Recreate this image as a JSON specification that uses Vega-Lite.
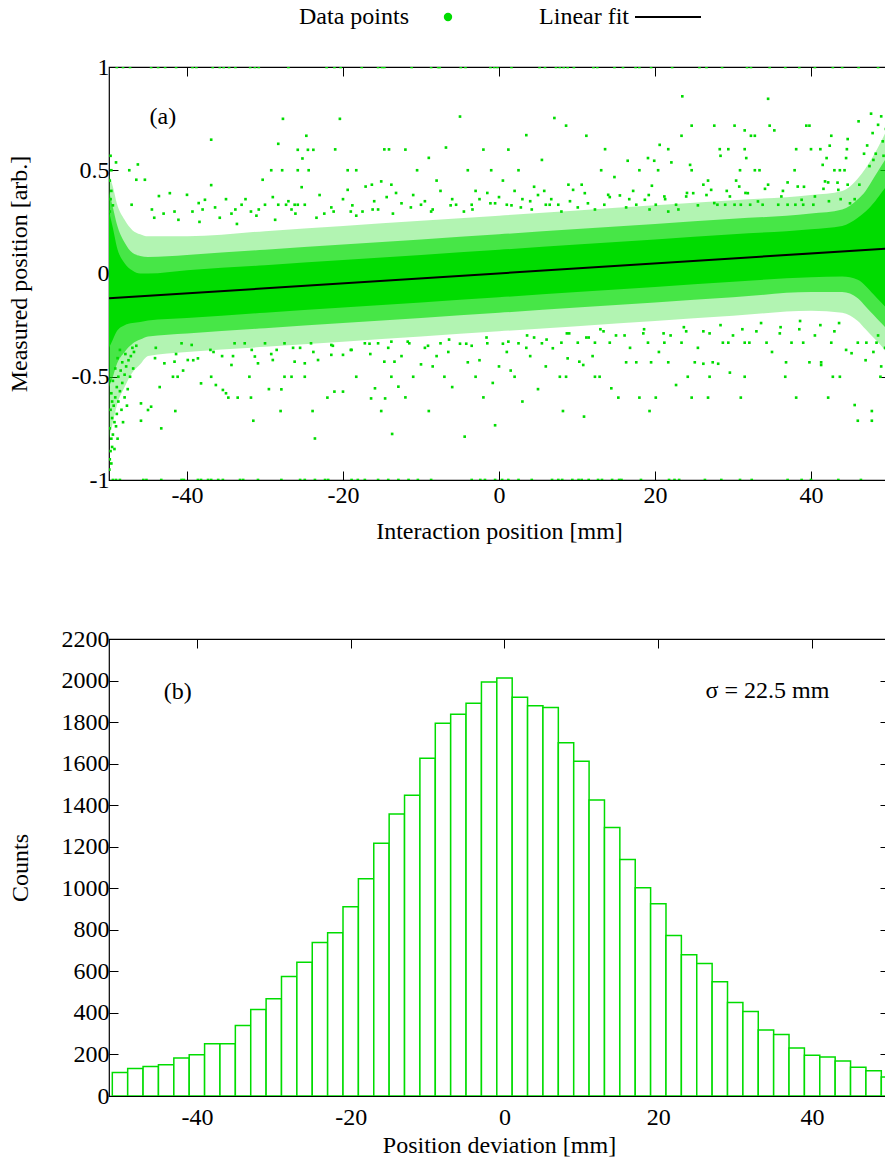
{
  "$schema": "https://vega.github.io/schema/vega-lite/v6.json",
  "padding": {"left": 6, "top": 5, "right": 5, "bottom": 5},
  "background": "white",
  "config": {
    "font": "Liberation Serif",
    "view": {"stroke": "black", "strokeWidth": 1.2},
    "axis": {
      "domain": false, "grid": false, "ticks": true, "tickSize": -9, "tickColor": "black", "tickWidth": 1,
      "labelFont": "Liberation Serif", "labelFontSize": 24, "labelColor": "black",
      "titleFont": "Liberation Serif", "titleFontSize": 24, "titleFontWeight": "normal", "titleColor": "black",
      "labelPadding": 9, "titlePadding": 25
    },
    "text": {"font": "Liberation Serif", "fontSize": 24, "color": "black"}
  },
  "spacing": 82,
  "datasets": {
    "band": [
      {"x": -50, "core_lo": -0.36, "core_hi": 0.30, "mid_lo": -0.55, "mid_hi": 0.40, "out_lo": -0.80, "out_hi": 0.48},
      {"x": -49.5, "core_lo": -0.32, "core_hi": 0.22, "mid_lo": -0.50, "mid_hi": 0.32, "out_lo": -0.72, "out_hi": 0.42},
      {"x": -49, "core_lo": -0.28, "core_hi": 0.13, "mid_lo": -0.44, "mid_hi": 0.24, "out_lo": -0.64, "out_hi": 0.34},
      {"x": -48, "core_lo": -0.25, "core_hi": 0.05, "mid_lo": -0.38, "mid_hi": 0.15, "out_lo": -0.55, "out_hi": 0.26},
      {"x": -47, "core_lo": -0.24, "core_hi": 0.015, "mid_lo": -0.34, "mid_hi": 0.10, "out_lo": -0.48, "out_hi": 0.21},
      {"x": -46, "core_lo": -0.235, "core_hi": 0.0, "mid_lo": -0.32, "mid_hi": 0.085, "out_lo": -0.44, "out_hi": 0.19},
      {"x": -45, "core_lo": -0.228, "core_hi": 0.0, "mid_lo": -0.305, "mid_hi": 0.08, "out_lo": -0.40, "out_hi": 0.18},
      {"x": -40, "core_lo": -0.216, "core_hi": 0.016, "mid_lo": -0.29, "mid_hi": 0.09, "out_lo": -0.38, "out_hi": 0.18},
      {"x": -30, "core_lo": -0.19, "core_hi": 0.04, "mid_lo": -0.265, "mid_hi": 0.115, "out_lo": -0.355, "out_hi": 0.205},
      {"x": -20, "core_lo": -0.165, "core_hi": 0.065, "mid_lo": -0.24, "mid_hi": 0.14, "out_lo": -0.33, "out_hi": 0.23},
      {"x": -10, "core_lo": -0.14, "core_hi": 0.09, "mid_lo": -0.215, "mid_hi": 0.165, "out_lo": -0.305, "out_hi": 0.255},
      {"x": 0, "core_lo": -0.115, "core_hi": 0.115, "mid_lo": -0.19, "mid_hi": 0.19, "out_lo": -0.28, "out_hi": 0.28},
      {"x": 10, "core_lo": -0.09, "core_hi": 0.14, "mid_lo": -0.165, "mid_hi": 0.215, "out_lo": -0.255, "out_hi": 0.305},
      {"x": 20, "core_lo": -0.065, "core_hi": 0.165, "mid_lo": -0.14, "mid_hi": 0.24, "out_lo": -0.23, "out_hi": 0.33},
      {"x": 30, "core_lo": -0.04, "core_hi": 0.19, "mid_lo": -0.115, "mid_hi": 0.265, "out_lo": -0.205, "out_hi": 0.355},
      {"x": 40, "core_lo": -0.018, "core_hi": 0.214, "mid_lo": -0.09, "mid_hi": 0.29, "out_lo": -0.18, "out_hi": 0.38},
      {"x": 44, "core_lo": -0.015, "core_hi": 0.23, "mid_lo": -0.09, "mid_hi": 0.31, "out_lo": -0.19, "out_hi": 0.40},
      {"x": 46, "core_lo": -0.03, "core_hi": 0.27, "mid_lo": -0.12, "mid_hi": 0.36, "out_lo": -0.23, "out_hi": 0.46},
      {"x": 47, "core_lo": -0.06, "core_hi": 0.30, "mid_lo": -0.16, "mid_hi": 0.40, "out_lo": -0.27, "out_hi": 0.51},
      {"x": 48, "core_lo": -0.10, "core_hi": 0.34, "mid_lo": -0.20, "mid_hi": 0.46, "out_lo": -0.31, "out_hi": 0.57},
      {"x": 49, "core_lo": -0.14, "core_hi": 0.39, "mid_lo": -0.24, "mid_hi": 0.52, "out_lo": -0.35, "out_hi": 0.64},
      {"x": 50, "core_lo": -0.18, "core_hi": 0.44, "mid_lo": -0.28, "mid_hi": 0.58, "out_lo": -0.40, "out_hi": 0.72}
    ],
    "fit": [{"x": -50, "y": -0.12}, {"x": 50, "y": 0.121}],
    "pts": [
      {"x":-27.7,"y":0.749},{"x":-20.4,"y":0.749},{"x":-36.9,"y":0.648},{"x":-24.7,"y":0.667},{"x":-28.3,"y":0.628},{"x":-25.8,"y":0.599},{"x":-24.5,"y":0.599},{"x":-23.8,"y":0.599},{"x":-21.0,"y":0.601},{"x":-25.2,"y":0.557},{"x":-14.7,"y":0.601},{"x":-14.1,"y":0.601},{"x":-49.8,"y":0.570},{"x":-49.1,"y":0.538},{"x":-46.3,"y":0.528},{"x":-49.7,"y":0.5},{"x":-47.4,"y":0.5},{"x":-29.2,"y":0.5},{"x":-27.8,"y":0.5},{"x":-25.8,"y":0.5},{"x":-24.4,"y":0.5},{"x":-19.4,"y":0.5},{"x":-18.3,"y":0.5},{"x":-46.5,"y":0.454},{"x":-45.4,"y":0.454},{"x":-30.3,"y":0.454},{"x":-36.9,"y":0.428},{"x":-25.3,"y":0.418},{"x":-19.4,"y":0.405},{"x":-17.1,"y":0.421},{"x":-16.3,"y":0.43},{"x":-15.1,"y":0.446},{"x":-13.8,"y":0.43},{"x":-43.6,"y":0.375},{"x":-42.2,"y":0.389},{"x":-40.0,"y":0.381},{"x":-37.7,"y":0.357},{"x":-38.5,"y":0.341},{"x":-47.1,"y":0.333},{"x":-33.0,"y":0.333},{"x":-30.0,"y":0.333},{"x":-28.3,"y":0.333},{"x":-27.3,"y":0.333},{"x":-26.2,"y":0.333},{"x":-25.8,"y":0.333},{"x":-24.9,"y":0.333},{"x":-41.6,"y":0.30},{"x":-38.0,"y":0.31},{"x":-35.0,"y":0.36},{"x":-34.3,"y":0.29},{"x":-31.8,"y":0.30},{"x":-29.0,"y":0.37},{"x":-27.0,"y":0.35},{"x":-23.0,"y":0.38},{"x":-21.5,"y":0.32},{"x":-20.0,"y":0.36},{"x":-18.8,"y":0.33},{"x":-17.5,"y":0.30},{"x":-16.0,"y":0.35},{"x":-14.4,"y":0.37},{"x":-13.2,"y":0.39},{"x":-12.5,"y":0.34},{"x":-44.5,"y":0.31},{"x":-43.0,"y":0.29},{"x":-39.3,"y":0.30},{"x":-36.4,"y":0.32},{"x":-33.8,"y":0.31},{"x":-32.5,"y":0.36},{"x":-30.8,"y":0.31},{"x":-26.6,"y":0.31},{"x":-22.4,"y":0.29},{"x":-19.0,"y":0.30},{"x":-15.5,"y":0.31},
      {"x":-44.2,"y":0.27},{"x":-41.1,"y":0.26},{"x":-38.4,"y":0.25},{"x":-35.8,"y":0.27},{"x":-33.6,"y":0.24},{"x":-31.1,"y":0.28},{"x":-28.7,"y":0.26},{"x":-26.1,"y":0.29},{"x":-23.4,"y":0.27},{"x":-21.2,"y":0.30},{"x":-18.3,"y":0.28},{"x":-16.2,"y":0.31},{"x":-13.6,"y":0.29},{"x":-11.3,"y":0.32},{"x":-8.7,"y":0.30},{"x":-6.2,"y":0.33},{"x":-3.4,"y":0.31},{"x":-1.1,"y":0.34},{"x":1.6,"y":0.33},{"x":4.2,"y":0.31},{"x":6.7,"y":0.36},{"x":9.1,"y":0.35},{"x":11.4,"y":0.34},{"x":14.2,"y":0.37},{"x":16.7,"y":0.36},{"x":19.2,"y":0.38},{"x":21.3,"y":0.36},{"x":24.1,"y":0.39},{"x":26.6,"y":0.38},{"x":29.2,"y":0.40},{"x":31.6,"y":0.39},{"x":34.1,"y":0.41},{"x":36.4,"y":0.40},{"x":39.1,"y":0.42},{"x":41.6,"y":0.41},{"x":43.4,"y":0.44},
      {"x":-12.0,"y":0.60},{"x":-10.5,"y":0.50},{"x":-9.0,"y":0.56},{"x":-8.0,"y":0.45},{"x":-6.8,"y":0.61},{"x":-5.0,"y":0.76},{"x":-4.0,"y":0.50},{"x":-3.0,"y":0.40},{"x":-2.0,"y":0.60},{"x":-1.0,"y":0.50},{"x":0.5,"y":0.45},{"x":1.2,"y":0.60},{"x":2.5,"y":0.50},{"x":3.5,"y":0.67},{"x":4.5,"y":0.42},{"x":5.5,"y":0.55},{"x":-11.0,"y":0.38},{"x":-9.5,"y":0.35},{"x":-7.5,"y":0.40},{"x":-6.0,"y":0.36},{"x":-5.5,"y":0.333},{"x":-3.5,"y":0.333},{"x":-2.5,"y":0.36},{"x":-1.5,"y":0.39},{"x":0.0,"y":0.37},{"x":1.0,"y":0.333},{"x":2.0,"y":0.40},{"x":3.0,"y":0.36},{"x":4.0,"y":0.35},{"x":5.0,"y":0.38},{"x":6.0,"y":0.333},{"x":-10.0,"y":0.333},{"x":-8.5,"y":0.31},{"x":-4.5,"y":0.30},{"x":-0.5,"y":0.34},{"x":2.8,"y":0.32},{"x":5.8,"y":0.40},
      {"x":23.5,"y":0.858},{"x":34.5,"y":0.846},{"x":47.7,"y":0.774},{"x":49.0,"y":0.761},{"x":8.6,"y":0.716},{"x":7.1,"y":0.753},{"x":46.1,"y":0.737},{"x":11.2,"y":0.667},{"x":23.4,"y":0.667},{"x":24.7,"y":0.716},{"x":27.6,"y":0.716},{"x":30.2,"y":0.716},{"x":31.5,"y":0.693},{"x":32.3,"y":0.667},{"x":32.8,"y":0.667},{"x":34.7,"y":0.716},{"x":35.3,"y":0.693},{"x":39.4,"y":0.716},{"x":39.8,"y":0.716},{"x":42.6,"y":0.667},{"x":44.7,"y":0.651},{"x":13.6,"y":0.602},{"x":20.6,"y":0.623},{"x":21.7,"y":0.602},{"x":28.3,"y":0.602},{"x":29.4,"y":0.602},{"x":31.5,"y":0.602},{"x":38.1,"y":0.602},{"x":40.0,"y":0.602},{"x":41.2,"y":0.602},{"x":42.4,"y":0.619},{"x":44.6,"y":0.602},{"x":16.5,"y":0.546},{"x":19.1,"y":0.559},{"x":19.9,"y":0.546},{"x":22.1,"y":0.538},{"x":24.5,"y":0.526},{"x":28.4,"y":0.570},{"x":31.7,"y":0.559},{"x":42.0,"y":0.559},{"x":41.5,"y":0.526},{"x":44.5,"y":0.559},{"x":13.1,"y":0.5},{"x":18.0,"y":0.5},{"x":20.4,"y":0.5},{"x":24.7,"y":0.5},{"x":30.9,"y":0.5},{"x":32.8,"y":0.5},{"x":33.4,"y":0.5},{"x":37.9,"y":0.5},{"x":43.0,"y":0.5},{"x":43.7,"y":0.5},{"x":44.3,"y":0.5},{"x":14.8,"y":0.467},{"x":19.6,"y":0.425},{"x":26.8,"y":0.45},{"x":30.4,"y":0.45},{"x":37.0,"y":0.441},{"x":38.3,"y":0.421},{"x":42.2,"y":0.441},{"x":46.2,"y":0.43},{"x":10.6,"y":0.43},{"x":8.9,"y":0.43},{"x":6.5,"y":0.333},{"x":7.6,"y":0.333},{"x":9.5,"y":0.405},{"x":11.0,"y":0.389},{"x":14.0,"y":0.381},{"x":15.5,"y":0.378},{"x":17.2,"y":0.40},{"x":18.7,"y":0.357},{"x":21.2,"y":0.373},{"x":22.7,"y":0.333},{"x":24.0,"y":0.373},{"x":24.9,"y":0.389},{"x":26.2,"y":0.43},{"x":27.2,"y":0.405},{"x":27.6,"y":0.341},{"x":29.6,"y":0.373},{"x":30.8,"y":0.421},{"x":31.9,"y":0.389},{"x":33.2,"y":0.349},{"x":34.5,"y":0.43},{"x":36.2,"y":0.373},{"x":37.0,"y":0.333},{"x":38.8,"y":0.357},{"x":40.5,"y":0.373},{"x":41.8,"y":0.446},{"x":43.5,"y":0.405},{"x":44.7,"y":0.43},{"x":45.6,"y":0.36},{"x":8.0,"y":0.30},{"x":10.1,"y":0.32},{"x":12.3,"y":0.31},{"x":13.5,"y":0.333},{"x":16.3,"y":0.32},{"x":17.6,"y":0.333},{"x":19.3,"y":0.31},{"x":20.1,"y":0.333},{"x":21.7,"y":0.30},{"x":23.0,"y":0.31},{"x":25.5,"y":0.33},{"x":28.0,"y":0.333},{"x":29.0,"y":0.333},{"x":30.2,"y":0.333},{"x":31.0,"y":0.333},{"x":32.2,"y":0.333},{"x":33.8,"y":0.333},{"x":35.8,"y":0.333},{"x":38.0,"y":0.333},{"x":39.0,"y":0.333},{"x":40.3,"y":0.333},{"x":42.3,"y":0.35},{"x":43.8,"y":0.36},{"x":45.0,"y":0.34},
      {"x":47.2,"y":0.62},{"x":47.9,"y":0.68},{"x":48.3,"y":0.58},{"x":48.6,"y":0.72},{"x":49.2,"y":0.64},{"x":49.6,"y":0.70},{"x":49.8,"y":0.66},{"x":48.0,"y":0.55},{"x":49.3,"y":0.57},{"x":47.5,"y":0.52},{"x":46.8,"y":0.58},{"x":49.9,"y":0.60},
      {"x":-31.5,"y":-0.713},{"x":-43.3,"y":-0.75},{"x":-23.6,"y":-0.799},{"x":-13.7,"y":-0.777},{"x":-28.0,"y":-0.666},{"x":-23.9,"y":-0.666},{"x":-15.1,"y":-0.666},{"x":-45.9,"y":-0.713},{"x":-45.0,"y":-0.661},{"x":-44.6,"y":-0.645},{"x":-41.5,"y":-0.666},{"x":-45.9,"y":-0.629},{"x":-16.4,"y":-0.605},{"x":-14.6,"y":-0.605},{"x":-34.7,"y":-0.601},{"x":-33.5,"y":-0.601},{"x":-31.8,"y":-0.601},{"x":-27.9,"y":-0.561},{"x":-22.0,"y":-0.601},{"x":-21.1,"y":-0.572},{"x":-20.0,"y":-0.572},{"x":-15.9,"y":-0.556},{"x":-12.9,"y":-0.548},{"x":-38.2,"y":-0.532},{"x":-36.3,"y":-0.54},{"x":-35.4,"y":-0.564},{"x":-35.0,"y":-0.58},{"x":-41.8,"y":-0.5},{"x":-41.2,"y":-0.5},{"x":-36.9,"y":-0.5},{"x":-27.5,"y":-0.5},{"x":-26.6,"y":-0.5},{"x":-24.9,"y":-0.5},{"x":-18.3,"y":-0.5},{"x":-13.8,"y":-0.5},{"x":-42.9,"y":-0.435},{"x":-41.6,"y":-0.427},{"x":-39.9,"y":-0.419},{"x":-38.6,"y":-0.411},{"x":-34.3,"y":-0.443},{"x":-31.3,"y":-0.402},{"x":-30.9,"y":-0.435},{"x":-29.0,"y":-0.419},{"x":-26.2,"y":-0.427},{"x":-24.9,"y":-0.435},{"x":-23.2,"y":-0.419},{"x":-21.5,"y":-0.394},{"x":-20.0,"y":-0.394},{"x":-14.7,"y":-0.427},{"x":-13.4,"y":-0.427},{"x":-40.7,"y":-0.338},{"x":-39.4,"y":-0.346},{"x":-33.9,"y":-0.338},{"x":-32.6,"y":-0.338},{"x":-30.0,"y":-0.338},{"x":-27.5,"y":-0.338},{"x":-24.1,"y":-0.338},{"x":-21.5,"y":-0.346},{"x":-17.2,"y":-0.338},{"x":-15.5,"y":-0.338},{"x":-13.8,"y":-0.33},{"x":-44.0,"y":-0.36},{"x":-37.0,"y":-0.37},{"x":-35.5,"y":-0.40},{"x":-28.5,"y":-0.37},{"x":-25.5,"y":-0.36},{"x":-19.0,"y":-0.37},{"x":-16.5,"y":-0.39},{"x":-43.5,"y":-0.55},{"x":-40.5,"y":-0.47},{"x":-32.0,"y":-0.5},{"x":-29.5,"y":-0.56},
      {"x":-44.1,"y":-0.41},{"x":-41.4,"y":-0.39},{"x":-39.2,"y":-0.42},{"x":-36.6,"y":-0.38},{"x":-34.1,"y":-0.40},{"x":-31.7,"y":-0.37},{"x":-29.2,"y":-0.39},{"x":-26.4,"y":-0.36},{"x":-23.8,"y":-0.38},{"x":-21.3,"y":-0.35},{"x":-18.9,"y":-0.37},{"x":-16.6,"y":-0.34},{"x":-14.2,"y":-0.36},{"x":-11.7,"y":-0.33},{"x":-9.1,"y":-0.35},{"x":-6.4,"y":-0.32},{"x":-4.2,"y":-0.34},{"x":-1.6,"y":-0.31},{"x":1.2,"y":-0.33},{"x":3.6,"y":-0.30},{"x":6.1,"y":-0.32},{"x":8.7,"y":-0.29},{"x":11.2,"y":-0.31},{"x":13.4,"y":-0.28},{"x":16.1,"y":-0.30},{"x":18.6,"y":-0.27},{"x":21.1,"y":-0.29},{"x":23.7,"y":-0.26},{"x":26.2,"y":-0.28},{"x":28.4,"y":-0.25},{"x":31.2,"y":-0.27},{"x":33.6,"y":-0.24},{"x":36.1,"y":-0.26},{"x":38.6,"y":-0.23},{"x":41.2,"y":-0.25},{"x":43.6,"y":-0.24},
      {"x":-49.9,"y":-0.90},{"x":-49.8,"y":-0.86},{"x":-49.6,"y":-0.84},{"x":-49.7,"y":-0.80},{"x":-49.5,"y":-0.78},{"x":-49.9,"y":-0.75},{"x":-49.3,"y":-0.72},{"x":-49.6,"y":-0.70},{"x":-49.0,"y":-0.68},{"x":-49.8,"y":-0.66},{"x":-49.4,"y":-0.64},{"x":-48.8,"y":-0.62},{"x":-49.2,"y":-0.60},{"x":-49.7,"y":-0.58},{"x":-48.6,"y":-0.57},{"x":-49.0,"y":-0.55},{"x":-48.3,"y":-0.53},{"x":-49.5,"y":-0.52},{"x":-48.8,"y":-0.50},{"x":-48.0,"y":-0.49},{"x":-48.5,"y":-0.47},{"x":-49.2,"y":-0.46},{"x":-47.8,"y":-0.45},{"x":-48.3,"y":-0.43},{"x":-47.5,"y":-0.42},{"x":-48.9,"y":-0.41},{"x":-47.2,"y":-0.40},{"x":-47.9,"y":-0.39},{"x":-46.8,"y":-0.38},{"x":-48.6,"y":-0.37},{"x":-47.0,"y":-0.36},{"x":-46.5,"y":-0.35},{"x":-49.6,"y":-0.62},{"x":-49.1,"y":-0.74},{"x":-48.4,"y":-0.66},{"x":-48.0,"y":-0.60},{"x":-47.6,"y":-0.56},{"x":-49.9,"y":-0.52},{"x":-47.3,"y":-0.50},{"x":-46.9,"y":-0.46},{"x":-49.3,"y":-0.85},{"x":-48.9,"y":-0.80},{"x":-48.2,"y":-0.72},{"x":-47.7,"y":-0.64},{"x":-49.95,"y":-0.95},{"x":-49.7,"y":-0.92},
      {"x":-49.9,"y":0.45},{"x":-49.7,"y":0.40},{"x":-49.8,"y":0.36},{"x":-49.5,"y":0.33},{"x":-49.9,"y":0.30},
      {"x":-12.0,"y":-0.60},{"x":-11.0,"y":-0.5},{"x":-10.0,"y":-0.44},{"x":-9.0,"y":-0.666},{"x":-8.0,"y":-0.40},{"x":-7.0,"y":-0.5},{"x":-6.0,"y":-0.55},{"x":-5.0,"y":-0.34},{"x":-4.4,"y":-0.79},{"x":-4.0,"y":-0.43},{"x":-3.0,"y":-0.5},{"x":-2.0,"y":-0.60},{"x":-0.5,"y":-0.735},{"x":0.0,"y":-0.45},{"x":1.0,"y":-0.38},{"x":2.0,"y":-0.5},{"x":3.0,"y":-0.62},{"x":4.0,"y":-0.40},{"x":5.0,"y":-0.56},{"x":6.0,"y":-0.45},{"x":-11.5,"y":-0.338},{"x":-9.5,"y":-0.36},{"x":-7.5,"y":-0.338},{"x":-6.5,"y":-0.38},{"x":-3.5,"y":-0.35},{"x":-1.5,"y":-0.338},{"x":0.5,"y":-0.34},{"x":2.5,"y":-0.338},{"x":3.5,"y":-0.36},{"x":5.5,"y":-0.338},{"x":-12.5,"y":-0.40},{"x":-8.5,"y":-0.45},{"x":-2.5,"y":-0.42},{"x":1.5,"y":-0.47},{"x":4.5,"y":-0.31},{"x":-0.8,"y":-0.53},
      {"x":8.2,"y":-0.666},{"x":10.9,"y":-0.693},{"x":19.3,"y":-0.666},{"x":45.6,"y":-0.637},{"x":46.0,"y":-0.713},{"x":47.8,"y":-0.713},{"x":47.8,"y":-0.666},{"x":14.4,"y":-0.556},{"x":15.3,"y":-0.601},{"x":18.0,"y":-0.601},{"x":20.1,"y":-0.601},{"x":22.7,"y":-0.54},{"x":24.7,"y":-0.601},{"x":26.8,"y":-0.601},{"x":31.0,"y":-0.601},{"x":38.1,"y":-0.601},{"x":42.2,"y":-0.601},{"x":7.8,"y":-0.5},{"x":8.6,"y":-0.5},{"x":12.3,"y":-0.5},{"x":12.9,"y":-0.5},{"x":24.2,"y":-0.5},{"x":27.0,"y":-0.5},{"x":29.6,"y":-0.48},{"x":31.5,"y":-0.5},{"x":36.7,"y":-0.5},{"x":42.8,"y":-0.5},{"x":43.7,"y":-0.5},{"x":48.9,"y":-0.5},{"x":6.9,"y":-0.362},{"x":8.8,"y":-0.411},{"x":10.3,"y":-0.427},{"x":10.8,"y":-0.443},{"x":12.0,"y":-0.40},{"x":16.3,"y":-0.43},{"x":17.6,"y":-0.43},{"x":19.5,"y":-0.43},{"x":21.7,"y":-0.43},{"x":25.1,"y":-0.43},{"x":26.2,"y":-0.437},{"x":27.4,"y":-0.43},{"x":28.1,"y":-0.437},{"x":36.8,"y":-0.43},{"x":39.8,"y":-0.43},{"x":41.3,"y":-0.43},{"x":41.3,"y":-0.443},{"x":45.2,"y":-0.386},{"x":8.0,"y":-0.335},{"x":10.1,"y":-0.335},{"x":12.3,"y":-0.335},{"x":14.2,"y":-0.335},{"x":19.1,"y":-0.335},{"x":21.2,"y":-0.335},{"x":23.4,"y":-0.335},{"x":28.7,"y":-0.335},{"x":29.4,"y":-0.335},{"x":31.5,"y":-0.335},{"x":32.1,"y":-0.335},{"x":34.3,"y":-0.335},{"x":37.5,"y":-0.335},{"x":39.0,"y":-0.335},{"x":42.6,"y":-0.335},{"x":46.0,"y":-0.335},{"x":47.1,"y":-0.335},{"x":48.4,"y":-0.335},{"x":9.0,"y":-0.29},{"x":11.5,"y":-0.31},{"x":13.0,"y":-0.27},{"x":15.0,"y":-0.30},{"x":16.8,"y":-0.36},{"x":18.5,"y":-0.29},{"x":20.5,"y":-0.38},{"x":22.0,"y":-0.30},{"x":24.0,"y":-0.28},{"x":25.5,"y":-0.36},{"x":27.0,"y":-0.29},{"x":30.0,"y":-0.30},{"x":33.0,"y":-0.28},{"x":35.0,"y":-0.38},{"x":36.0,"y":-0.29},{"x":38.5,"y":-0.27},{"x":40.5,"y":-0.30},{"x":43.0,"y":-0.28},{"x":44.5,"y":-0.37},{"x":47.0,"y":-0.42},{"x":48.0,"y":-0.38},{"x":49.0,"y":-0.45},{"x":48.6,"y":-0.30},{"x":49.5,"y":-0.36},
      {"x":-49.0,"y":1},{"x":-48.2,"y":1},{"x":-47.3,"y":1},{"x":-44.6,"y":1},{"x":-43.7,"y":1},{"x":-42.8,"y":1},{"x":-41.4,"y":1},{"x":-39.3,"y":1},{"x":-38.8,"y":1},{"x":-36.7,"y":1},{"x":-35.8,"y":1},{"x":-35.3,"y":1},{"x":-34.6,"y":1},{"x":-33.8,"y":1},{"x":-31.9,"y":1},{"x":-31.3,"y":1},{"x":-30.8,"y":1},{"x":-27.0,"y":1},{"x":-22.1,"y":1},{"x":-21.1,"y":1},{"x":-20.3,"y":1},{"x":-17.6,"y":1},{"x":-15.5,"y":1},{"x":-15.0,"y":1},{"x":-14.7,"y":1},{"x":-11.2,"y":1},{"x":-8.7,"y":1},{"x":-7.8,"y":1},{"x":-7.6,"y":1},{"x":-4.9,"y":1},{"x":-4.3,"y":1},{"x":-1.1,"y":1},{"x":-0.6,"y":1},{"x":-0.2,"y":1},{"x":1.6,"y":1},{"x":5.2,"y":1},{"x":5.9,"y":1},{"x":7.3,"y":1},{"x":7.8,"y":1},{"x":8.3,"y":1},{"x":8.8,"y":1},{"x":9.6,"y":1},{"x":12.1,"y":1},{"x":12.6,"y":1},{"x":14.8,"y":1},{"x":15.9,"y":1},{"x":17.5,"y":1},{"x":18.0,"y":1},{"x":19.5,"y":1},{"x":22.2,"y":1},{"x":25.7,"y":1},{"x":26.6,"y":1},{"x":28.6,"y":1},{"x":31.8,"y":1},{"x":32.3,"y":1},{"x":34.7,"y":1},{"x":36.7,"y":1},{"x":38.5,"y":1},{"x":40.5,"y":1},{"x":42.8,"y":1},{"x":44.0,"y":1},{"x":46.1,"y":1},{"x":48.6,"y":1},
      {"x":-49.5,"y":-1},{"x":-49.1,"y":-1},{"x":-48.6,"y":-1},{"x":-45.6,"y":-1},{"x":-45.2,"y":-1},{"x":-43.3,"y":-1},{"x":-40.7,"y":-1},{"x":-40.4,"y":-1},{"x":-38.6,"y":-1},{"x":-38.2,"y":-1},{"x":-37.3,"y":-1},{"x":-36.9,"y":-1},{"x":-36.0,"y":-1},{"x":-35.4,"y":-1},{"x":-33.2,"y":-1},{"x":-32.8,"y":-1},{"x":-30.9,"y":-1},{"x":-27.9,"y":-1},{"x":-25.5,"y":-1},{"x":-24.9,"y":-1},{"x":-23.6,"y":-1},{"x":-22.3,"y":-1},{"x":-21.9,"y":-1},{"x":-18.9,"y":-1},{"x":-18.1,"y":-1},{"x":-17.2,"y":-1},{"x":-15.5,"y":-1},{"x":-14.2,"y":-1},{"x":-12.9,"y":-1},{"x":-11.6,"y":-1},{"x":-10.4,"y":-1},{"x":-8.7,"y":-1},{"x":-3.5,"y":-1},{"x":-2.4,"y":-1},{"x":-1.8,"y":-1},{"x":-0.5,"y":-1},{"x":0.4,"y":-1},{"x":1.2,"y":-1},{"x":2.5,"y":-1},{"x":4.2,"y":-1},{"x":6.8,"y":-1},{"x":7.6,"y":-1},{"x":8.1,"y":-1},{"x":9.4,"y":-1},{"x":10.2,"y":-1},{"x":10.6,"y":-1},{"x":11.5,"y":-1},{"x":12.7,"y":-1},{"x":13.2,"y":-1},{"x":14.5,"y":-1},{"x":15.4,"y":-1},{"x":15.7,"y":-1},{"x":18.2,"y":-1},{"x":21.8,"y":-1},{"x":22.5,"y":-1},{"x":23.1,"y":-1},{"x":26.4,"y":-1},{"x":28.5,"y":-1},{"x":30.9,"y":-1},{"x":32.4,"y":-1},{"x":37.0,"y":-1},{"x":38.8,"y":-1},{"x":40.0,"y":-1},{"x":43.5,"y":-1},{"x":46.4,"y":-1}
    ],
    "hist": [
      {"lo":-51,"hi":-49,"count":113},{"lo":-49,"hi":-47,"count":132},{"lo":-47,"hi":-45,"count":142},{"lo":-45,"hi":-43,"count":151},{"lo":-43,"hi":-41,"count":183},{"lo":-41,"hi":-39,"count":199},{"lo":-39,"hi":-37,"count":251},{"lo":-37,"hi":-35,"count":251},{"lo":-35,"hi":-33,"count":339},{"lo":-33,"hi":-31,"count":416},{"lo":-31,"hi":-29,"count":468},{"lo":-29,"hi":-27,"count":575},{"lo":-27,"hi":-25,"count":644},{"lo":-25,"hi":-23,"count":739},{"lo":-23,"hi":-21,"count":786},{"lo":-21,"hi":-19,"count":911},{"lo":-19,"hi":-17,"count":1046},{"lo":-17,"hi":-15,"count":1217},{"lo":-15,"hi":-13,"count":1358},{"lo":-13,"hi":-11,"count":1448},{"lo":-11,"hi":-9,"count":1626},{"lo":-9,"hi":-7,"count":1795},{"lo":-7,"hi":-5,"count":1838},{"lo":-5,"hi":-3,"count":1891},{"lo":-3,"hi":-1,"count":1993},{"lo":-1,"hi":1,"count":2012},{"lo":1,"hi":3,"count":1920},{"lo":3,"hi":5,"count":1879},{"lo":5,"hi":7,"count":1870},{"lo":7,"hi":9,"count":1700},{"lo":9,"hi":11,"count":1612},{"lo":11,"hi":13,"count":1425},{"lo":13,"hi":15,"count":1292},{"lo":15,"hi":17,"count":1138},{"lo":17,"hi":19,"count":1003},{"lo":19,"hi":21,"count":926},{"lo":21,"hi":23,"count":773},{"lo":23,"hi":25,"count":680},{"lo":25,"hi":27,"count":638},{"lo":27,"hi":29,"count":550},{"lo":29,"hi":31,"count":450},{"lo":31,"hi":33,"count":407},{"lo":33,"hi":35,"count":318},{"lo":35,"hi":37,"count":296},{"lo":37,"hi":39,"count":231},{"lo":39,"hi":41,"count":196},{"lo":41,"hi":43,"count":188},{"lo":43,"hi":45,"count":169},{"lo":45,"hi":47,"count":138},{"lo":47,"hi":49,"count":122},{"lo":49,"hi":51,"count":92}
    ]
  },
  "vconcat": [
    {
      "width": 780,
      "height": 413,
      "resolve": {"axis": {"x": "independent", "y": "independent"}},
      "layer": [
        {
          "data": {"name": "band"},
          "mark": {"type": "area", "color": "#00dc00", "opacity": 0.3, "clip": true, "interpolate": "monotone"},
          "encoding": {
            "x": {"field": "x", "type": "quantitative", "scale": {"domain": [-50, 50], "nice": false, "zero": false},
                  "axis": {"orient": "bottom", "values": [-40, -20, 0, 20, 40], "title": "Interaction position [mm]", "labelExpr": "'' + datum.value", "labelPadding": 12, "titlePadding": 12}},
            "y": {"field": "out_lo", "type": "quantitative", "scale": {"domain": [-1, 1], "nice": false, "zero": false},
                  "axis": {"orient": "left", "values": [-1, -0.5, 0, 0.5, 1], "title": "Measured position [arb.]", "labelExpr": "'' + datum.value", "titlePadding": 40}},
            "y2": {"field": "out_hi"}
          }
        },
        {
          "data": {"name": "band"},
          "mark": {"type": "area", "color": "#00dc00", "opacity": 0.6, "clip": true, "interpolate": "monotone"},
          "encoding": {
            "x": {"field": "x", "type": "quantitative", "axis": null},
            "y": {"field": "mid_lo", "type": "quantitative", "axis": null},
            "y2": {"field": "mid_hi"}
          }
        },
        {
          "data": {"name": "band"},
          "mark": {"type": "area", "color": "#00dc00", "opacity": 1, "clip": true, "interpolate": "monotone"},
          "encoding": {
            "x": {"field": "x", "type": "quantitative", "axis": null},
            "y": {"field": "core_lo", "type": "quantitative", "axis": null},
            "y2": {"field": "core_hi"}
          }
        },
        {
          "data": {"name": "pts"},
          "mark": {"type": "point", "shape": "square", "filled": true, "size": 7, "opacity": 1, "clip": true},
          "encoding": {
            "x": {"field": "x", "type": "quantitative", "axis": null},
            "y": {"field": "y", "type": "quantitative", "axis": null},
            "color": {
              "datum": "Data points",
              "scale": {"domain": ["Data points", "Linear fit"], "range": ["#00dc00", "#000000"]},
              "legend": {
                "title": null, "orient": "none", "legendX": 327, "legendY": -62, "direction": "horizontal",
                "labelFont": "Liberation Serif", "labelFontSize": 24, "labelColor": "black",
                "labelAlign": "right", "labelOffset": -51, "symbolSize": 484, "symbolStrokeWidth": 1.8,
                "symbolType": {"expr": "datum.value === 'Linear fit' ? 'M-3,0H3' : 'M0,-0.3A0.3,0.3,0,1,1,0,0.3A0.3,0.3,0,1,1,0,-0.3Z'"},
                "symbolStrokeColor": {"expr": "datum.value === 'Linear fit' ? '#000000' : '#00dc00'"},
                "symbolOpacity": 1,
                "columnPadding": 84
              }
            }
          }
        },
        {
          "data": {"name": "fit"},
          "mark": {"type": "line", "strokeWidth": 2, "clip": true},
          "encoding": {
            "x": {"field": "x", "type": "quantitative",
                  "axis": {"orient": "top", "values": [-40, -20, 0, 20, 40], "labels": false, "title": null}},
            "y": {"field": "y", "type": "quantitative",
                  "axis": {"orient": "right", "values": [-1, -0.5, 0, 0.5, 1], "labels": false, "title": null}},
            "color": {"datum": "Linear fit"}
          }
        },
        {
          "data": {"values": [{"x": -43.1, "y": 0.76, "label": "(a)"}]},
          "mark": {"type": "text", "baseline": "middle", "align": "center"},
          "encoding": {
            "x": {"field": "x", "type": "quantitative", "axis": null},
            "y": {"field": "y", "type": "quantitative", "axis": null},
            "text": {"field": "label"}
          }
        }
      ]
    },
    {
      "width": 780,
      "height": 457,
      "resolve": {"axis": {"x": "independent", "y": "independent"}},
      "layer": [
        {
          "data": {"name": "hist"},
          "mark": {"type": "bar", "fill": "white", "stroke": "#00dc00", "strokeWidth": 1.5, "clip": true},
          "encoding": {
            "x": {"field": "lo", "type": "quantitative", "scale": {"domain": [-51.43, 50], "nice": false, "zero": false},
                  "axis": {"orient": "bottom", "values": [-40, -20, 0, 20, 40], "title": "Position deviation [mm]", "labelExpr": "'' + datum.value", "labelPadding": 18, "titlePadding": 4}},
            "x2": {"field": "hi"},
            "y": {"field": "count", "type": "quantitative", "scale": {"domain": [0, 2200], "nice": false},
                  "axis": {"orient": "left", "values": [0, 200, 400, 600, 800, 1000, 1200, 1400, 1600, 1800, 2000, 2200], "title": "Counts", "labelExpr": "'' + datum.value", "titlePadding": 29}},
            "y2": {"datum": 0}
          }
        },
        {
          "data": {"values": [{"x": -42.5, "y": 1944, "label": "(b)"}, {"x": 34.2, "y": 1948, "label": "σ = 22.5 mm"}]},
          "mark": {"type": "text", "baseline": "middle", "align": "center"},
          "encoding": {
            "x": {"field": "x", "type": "quantitative",
                  "axis": {"orient": "top", "values": [-40, -20, 0, 20, 40], "labels": false, "title": null}},
            "y": {"field": "y", "type": "quantitative",
                  "axis": {"orient": "right", "values": [200, 400, 600, 800, 1000, 1200, 1400, 1600, 1800, 2000], "labels": false, "title": null}},
            "text": {"field": "label"}
          }
        }
      ]
    }
  ]
}
